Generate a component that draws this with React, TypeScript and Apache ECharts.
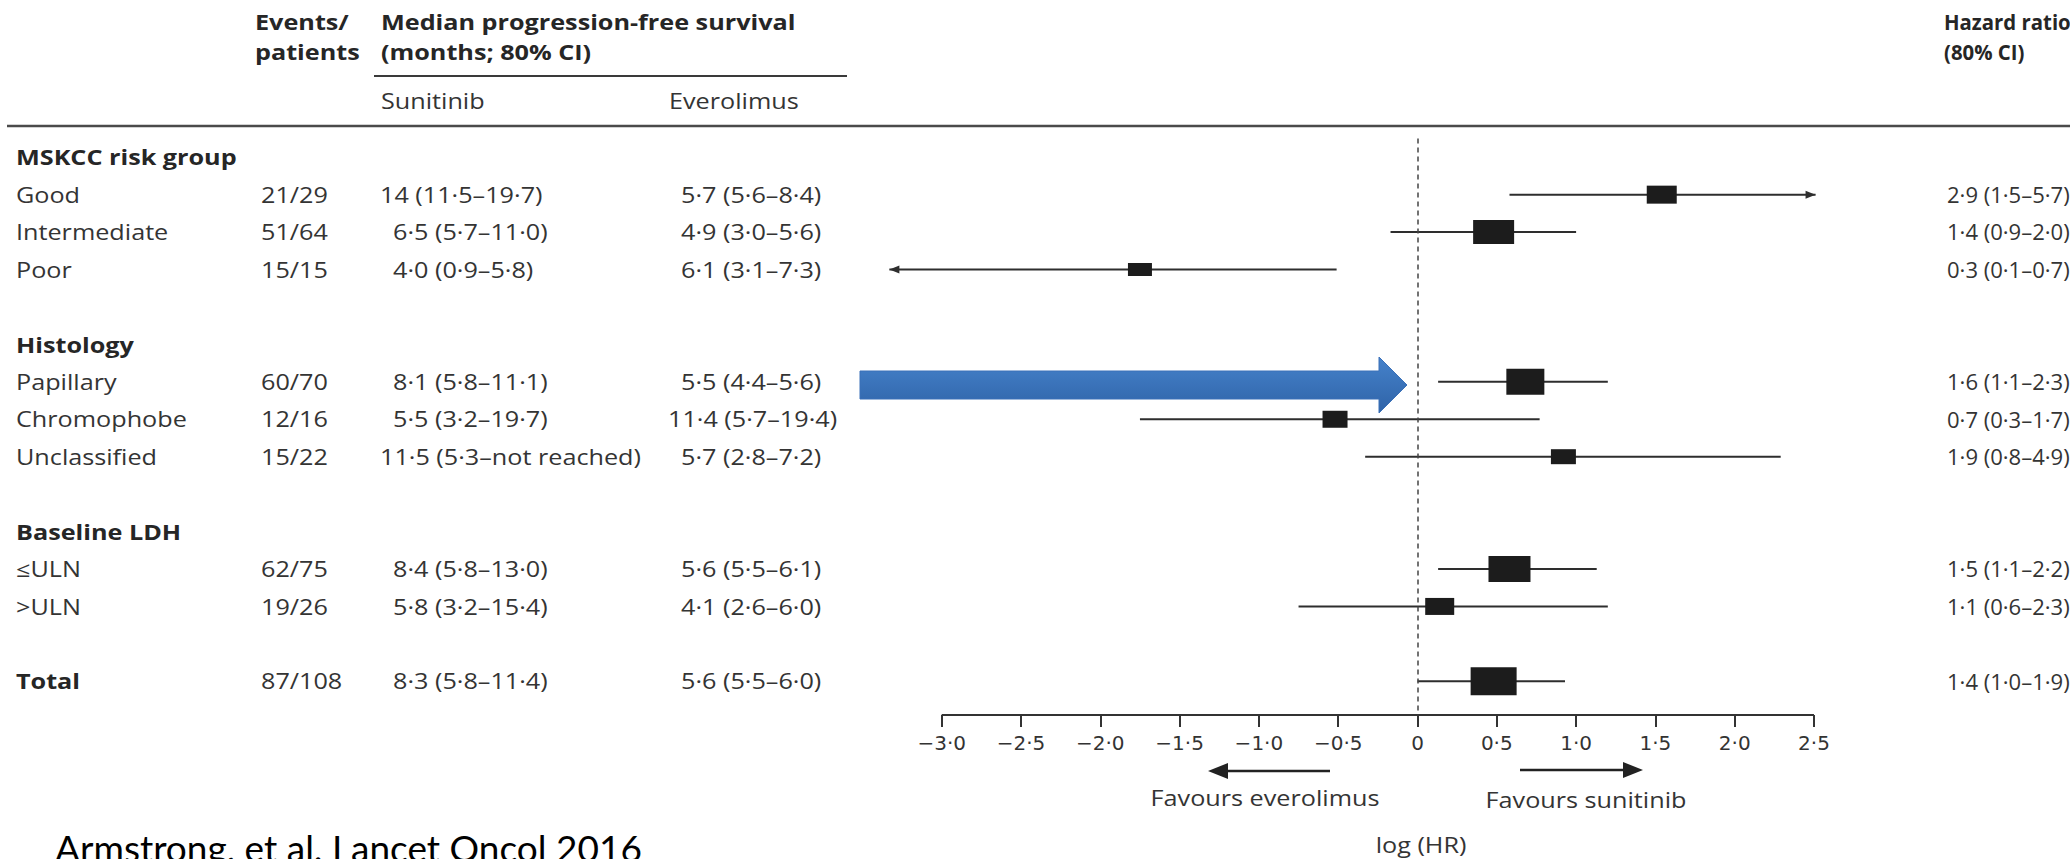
import React, { useEffect, useRef } from 'react';
import * as echarts from 'echarts';

// ---------- data ----------
const rowNames = [
  'MSKCC risk group', 'Good', 'Intermediate', 'Poor', '',
  'Histology', 'Papillary', 'Chromophobe', 'Unclassified', '',
  'Baseline LDH', '≤ULN', '>ULN', '', 'Total',
];
const groupHeaderRows = [0, 5, 10];
const subgroupRows = [1, 2, 3, 6, 7, 8, 11, 12, 14];
const eventsPatients = ['21/29', '51/64', '15/15', '60/70', '12/16', '15/22', '62/75', '19/26', '87/108'];
const sunitinibPFS = [
  '14 (11·5–19·7)', '6·5 (5·7–11·0)', '4·0 (0·9–5·8)',
  '8·1 (5·8–11·1)', '5·5 (3·2–19·7)', '11·5 (5·3–not reached)',
  '8·4 (5·8–13·0)', '5·8 (3·2–15·4)', '8·3 (5·8–11·4)',
];
const everolimusPFS = [
  '5·7 (5·6–8·4)', '4·9 (3·0–5·6)', '6·1 (3·1–7·3)',
  '5·5 (4·4–5·6)', '11·4 (5·7–19·4)', '5·7 (2·8–7·2)',
  '5·6 (5·5–6·1)', '4·1 (2·6–6·0)', '5·6 (5·5–6·0)',
];
const hazardRatioText = [
  '2·9 (1·5–5·7)', '1·4 (0·9–2·0)', '0·3 (0·1–0·7)',
  '1·6 (1·1–2·3)', '0·7 (0·3–1·7)', '1·9 (0·8–4·9)',
  '1·5 (1·1–2·2)', '1·1 (0·6–2·3)', '1·4 (1·0–1·9)',
];
// log(HR) point estimates and 80% CI bounds
const logHR = [1.54, 0.48, -1.75, 0.68, -0.52, 0.92, 0.58, 0.14, 0.48];
const logLower = [0.58, -0.17, -3.33, 0.13, -1.75, -0.33, 0.13, -0.75, 0.0];
const logUpper = [2.51, 1.0, -0.51, 1.2, 0.77, 2.29, 1.13, 1.2, 0.93];
const axisTickValues = [-3, -2.5, -2, -1.5, -1, -0.5, 0, 0.5, 1, 1.5, 2, 2.5];

// ---------- styles ----------
const boxSizes: [number, number][] = [
  [30, 18], [41, 24], [24, 13], [38, 26], [25, 17], [25, 15], [42, 26], [29, 17], [46, 28],
];
const TEXT = '#343434';
const HEAD = '#262626';
const FONT = 'Open Sans';
const SX = 1.2;

const fmtTick = (v: number) =>
  v === 0 ? '0' : (v < 0 ? '−' : '') + Math.abs(v).toFixed(1).replace('.', '·');

export default function App() {
  const ref = useRef<HTMLDivElement>(null);

  useEffect(() => {
    const el = ref.current!;
    const chart = echarts.init(el, null, { renderer: 'svg', width: 2070, height: 859 });
    const axMin = axisTickValues[0];
    const axMax = axisTickValues[axisTickValues.length - 1];

    const forestData = subgroupRows.map((r, i) => [r, logLower[i], logHR[i], logUpper[i]]);

    const renderItem = (params: any, api: any) => {
      const row = api.value(0);
      const lo = api.value(1);
      const est = api.value(2);
      const hi = api.value(3);
      const a = api.coord([lo, row]);
      const b = api.coord([hi, row]);
      const c = api.coord([est, row]);
      const [w, h] = boxSizes[params.dataIndex];
      const children: any[] = [
        { type: 'line', shape: { x1: a[0], y1: a[1], x2: b[0], y2: b[1] }, style: { stroke: '#2e2e2e', lineWidth: 2 } },
        { type: 'rect', shape: { x: c[0] - w / 2, y: c[1] - h / 2, width: w, height: h }, style: { fill: '#1c1c1c' } },
      ];
      if (lo < axMin) {
        children.push({ type: 'polygon', shape: { points: [[a[0], a[1]], [a[0] + 10, a[1] - 4], [a[0] + 10, a[1] + 4]] }, style: { fill: '#2e2e2e' } });
      }
      if (hi > axMax) {
        children.push({ type: 'polygon', shape: { points: [[b[0], b[1]], [b[0] - 10, b[1] - 4], [b[0] - 10, b[1] + 4]] }, style: { fill: '#2e2e2e' } });
      }
      return { type: 'group', children };
    };

    chart.setOption({
      animation: false,
      backgroundColor: '#ffffff',
      grid: { left: 862.4, right: 176.7, top: 138.5, bottom: 144 },
      xAxis: {
        type: 'value', min: -3.5, max: 3, interval: 0.5, position: 'bottom',
        splitLine: { show: false },
        axisLine: { show: false, onZero: false },
        axisTick: { show: true, customValues: axisTickValues, length: 12, lineStyle: { color: '#333', width: 2 } },
        axisLabel: {
          customValues: axisTickValues,
          formatter: (v: number) => (v < axMin - 1e-9 || v > axMax + 1e-9 ? '' : fmtTick(v)),
          margin: 18, fontSize: 20, fontFamily: 'DejaVu Sans', color: '#333',
        },
      },
      yAxis: { type: 'value', inverse: true, min: -0.5, max: 14.9, show: false },
      series: [
        {
          type: 'line', data: [[axMin, 14.9], [axMax, 14.9]], symbol: 'none', clip: false, silent: true,
          lineStyle: { color: '#333', width: 2 }, z: 1,
        },
        {
          type: 'custom', renderItem, data: forestData, encode: { x: [1, 2, 3], y: 0 }, clip: false, z: 3,
          markLine: {
            silent: true, symbol: 'none', label: { show: false },
            lineStyle: { color: '#444', width: 1.5, type: [5, 4] },
            data: [{ xAxis: 0 }],
          },
        },
      ],
    });

    const py = (r: number) => chart.convertToPixel({ yAxisIndex: 0 }, r) as number;
    const txt = (s: string, x: number, y: number, o: any = {}) => ({
      type: 'text', x, y, scaleX: o.scaleX ?? SX, silent: true,
      style: {
        text: s, x: 0, y: 0,
        fill: o.color ?? TEXT,
        fontSize: o.size ?? 21,
        fontFamily: o.family ?? FONT,
        fontWeight: o.weight ?? 'normal',
        textAlign: o.align ?? 'left',
        textVerticalAlign: o.va ?? 'middle',
        align: o.align ?? 'left',
        verticalAlign: o.va ?? 'middle',
      },
    });

    const HRX = 1944;
    const hrOpts = { scaleX: 1.05, size: 21 };

    const g: any[] = [];
    // column headers
    g.push(txt('Events/', 255, 22, { weight: 'bold', color: HEAD }));
    g.push(txt('patients', 255, 52, { weight: 'bold', color: HEAD }));
    g.push(txt('Median progression-free survival', 381, 22, { weight: 'bold', color: HEAD }));
    g.push(txt('(months; 80% CI)', 381, 52, { weight: 'bold', color: HEAD }));
    g.push(txt('Sunitinib', 381, 101));
    g.push(txt('Everolimus', 669, 101));
    g.push(txt('Hazard ratio', HRX, 22, { scaleX: 0.97, weight: 'bold', color: HEAD }));
    g.push(txt('(80% CI)', HRX, 52, { scaleX: 0.97, weight: 'bold', color: HEAD }));
    g.push({ type: 'line', silent: true, shape: { x1: 374, y1: 76, x2: 847, y2: 76 }, style: { stroke: '#3a3a3a', lineWidth: 2 } });
    g.push({ type: 'line', silent: true, shape: { x1: 7, y1: 126, x2: 2070, y2: 126 }, style: { stroke: '#4a4a4a', lineWidth: 2.5 } });

    // group headers
    groupHeaderRows.forEach((r) => g.push(txt(rowNames[r], 16, py(r), { weight: 'bold', color: HEAD })));
    // subgroup rows
    subgroupRows.forEach((r, i) => {
      const y = py(r);
      const isTotal = rowNames[r] === 'Total';
      g.push(txt(rowNames[r], 16, y, isTotal ? { weight: 'bold', color: HEAD } : {}));
      g.push(txt(eventsPatients[i], 261, y));
      g.push(txt(sunitinibPFS[i], /^\d\d/.test(sunitinibPFS[i]) ? 380 : 393, y));
      g.push(txt(everolimusPFS[i], /^\d\d/.test(everolimusPFS[i]) ? 668 : 681, y));
      g.push(txt(hazardRatioText[i], HRX + 3, y, hrOpts));
    });

    // favours arrows and labels
    g.push({ type: 'line', silent: true, shape: { x1: 1330, y1: 771, x2: 1224, y2: 771 }, style: { stroke: '#222', lineWidth: 2.5 } });
    g.push({ type: 'polygon', silent: true, shape: { points: [[1208, 771], [1228, 763], [1228, 779]] }, style: { fill: '#222' } });
    g.push({ type: 'line', silent: true, shape: { x1: 1520, y1: 770, x2: 1627, y2: 770 }, style: { stroke: '#222', lineWidth: 2.5 } });
    g.push({ type: 'polygon', silent: true, shape: { points: [[1643, 770], [1623, 762], [1623, 778]] }, style: { fill: '#222' } });
    g.push(txt('Favours everolimus', 1265, 798, { align: 'center' }));
    g.push(txt('Favours sunitinib', 1586, 800, { align: 'center' }));
    g.push(txt('log (HR)', 1421, 845, { align: 'center' }));

    // blue annotation arrow
    g.push({
      type: 'polygon', silent: true, z: 10,
      shape: { points: [[860, 371], [1379, 371], [1379, 357], [1407, 385], [1379, 413], [1379, 399], [860, 399]] },
      style: {
        fill: new echarts.graphic.LinearGradient(0, 0, 0, 1, [
          { offset: 0, color: '#4582cb' },
          { offset: 1, color: '#2f63a7' },
        ]),
        stroke: '#3a70b8', lineWidth: 1,
      },
    });

    // citation (cut by the bottom edge, as in the reference)
    g.push(txt('Armstrong, et al. Lancet Oncol 2016', 55, 847, { scaleX: 1, size: 37, family: 'Lato', color: '#000', va: 'middle' }));

    chart.setOption({ graphic: g });

    return () => chart.dispose();
  }, []);

  return (
    <div
      ref={ref}
      style={{ position: 'absolute', left: 0, top: 0, width: 2070, height: 859, background: '#fff' }}
    />
  );
}
